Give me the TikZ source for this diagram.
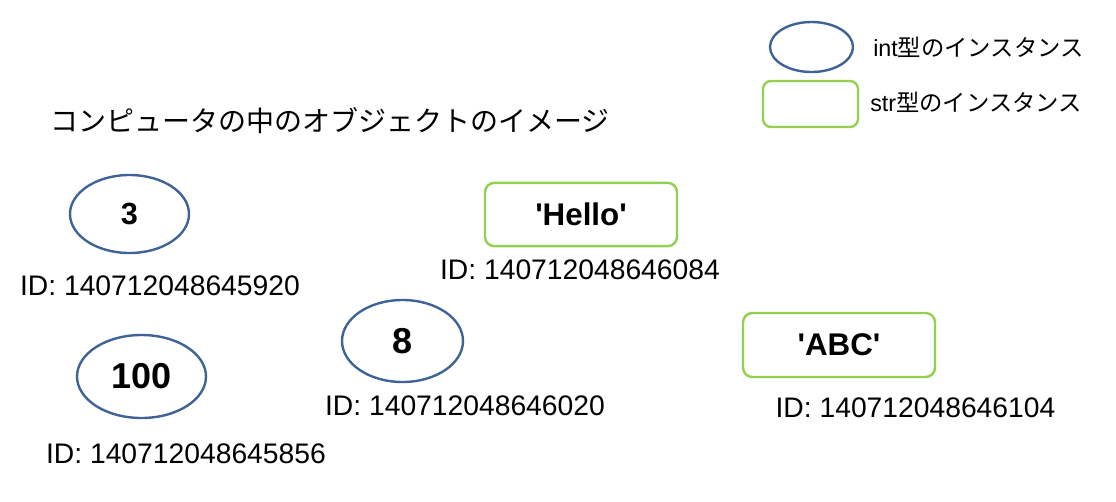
\documentclass[tikz,border=0pt]{standalone}
\usepackage{fontspec}
\setmainfont{Liberation Sans}
\newfontfamily\jpfont{Noto Sans CJK JP}
\usepackage{xcolor}
\definecolor{intBlue}{HTML}{3F6396}
\definecolor{strGreen}{HTML}{92D050}
\usepackage{tikz}
\usetikzlibrary{
    shapes.geometric,
    positioning
}
\tikzset{
    % int instances - blue ellipse
    intobj/.style={
        ellipse,
        draw=intBlue,
        line width=1.8pt,
        inner sep=0pt,
        font=\bfseries\fontsize{23}{27}\selectfont,
    },
    % str instances - green rounded box
    strobj/.style={
        rectangle,
        rounded corners=7pt,
        draw=strGreen,
        line width=1.8pt,
        inner sep=0pt,
        minimum width=144pt,
        minimum height=47.5pt,
        font=\bfseries\fontsize{23.5}{28}\selectfont,
    },
    % object id under each instance
    idlabel/.style={
        inner sep=0pt,
        font=\fontsize{21.2}{25}\selectfont,
    },
    % legend and title text
    legendtext/.style={
        anchor=west,
        inner sep=0pt,
        font=\fontsize{17.5}{20}\selectfont,
    },
}
\begin{document}
\begin{tikzpicture}[x=0.75pt, y=-0.75pt]
    \useasboundingbox (0,0) rectangle (1116,501);

    % legend
    \node (legendInt) [intobj, minimum width=62.25pt, minimum height=37.5pt] at (811.5,47) {};
    \node (legendStr) [strobj, minimum width=71.25pt, minimum height=34.5pt, rounded corners=6pt] at (810.5,104) {};
    \node (legendIntText) [legendtext] at (873,47) {int{\jpfont 型のインスタンス}};
    \node (legendStrText) [legendtext] at (870,102) {str{\jpfont 型のインスタンス}};

    % title
    \node (title) [legendtext, font=\jpfont\fontsize{21}{25}\selectfont] at (50,121) {コンピュータの中のオブジェクトのイメージ};

    % int objects
    \node (num3) [intobj, minimum width=89.25pt, minimum height=58.5pt] at (129.5,214) {3};
    \node (num100) [intobj, minimum width=96.75pt, minimum height=62.25pt, font=\bfseries\fontsize{27}{32}\selectfont] at (141.5,376.5) {100};
    \node (num8) [intobj, minimum width=90.75pt, minimum height=61.5pt, font=\bfseries\fontsize{27}{32}\selectfont] at (402.5,341) {8};

    % str objects
    \node (strHello) [strobj] at (581,214.5) {\textquotesingle Hello\textquotesingle};
    \node (strABC) [strobj, minimum height=48pt] at (839,345) {\textquotesingle ABC\textquotesingle};

    % ids
    \node (id3) [idlabel] at (160,286) {ID: 140712048645920};
    \node (idHello) [idlabel] at (580,270) {ID: 140712048646084};
    \node (id8) [idlabel] at (465,406) {ID: 140712048646020};
    \node (id100) [idlabel] at (186,454) {ID: 140712048645856};
    \node (idABC) [idlabel] at (915.5,407.5) {ID: 140712048646104};
\end{tikzpicture}
\end{document}
